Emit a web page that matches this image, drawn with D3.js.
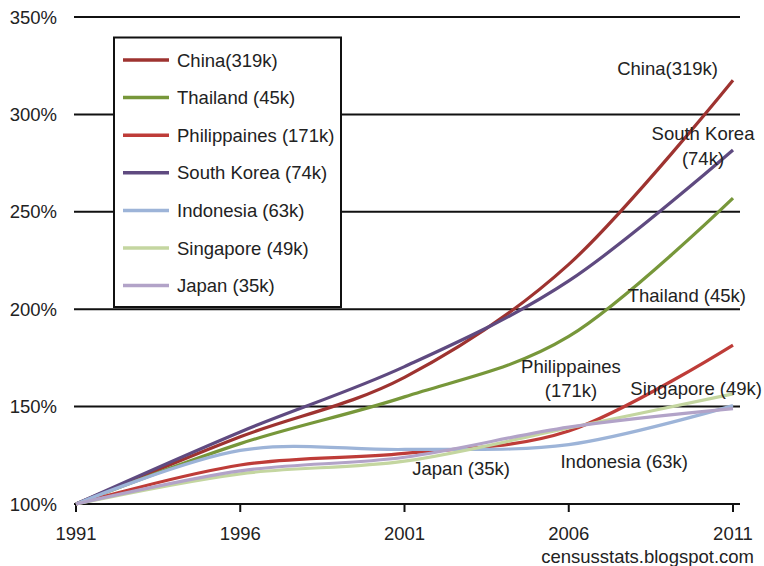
<!DOCTYPE html>
<html>
<head>
<meta charset="utf-8">
<script src="https://cdn.jsdelivr.net/npm/d3@7"></script>
<style>
  html, body { margin: 0; padding: 0; background: #fff; }
  svg { display: block; font-family: "Liberation Sans", Arial, Helvetica, sans-serif; }
</style>
</head>
<body>
<svg id="chart" width="764" height="566"></svg>
<script>
// ---- data ----
const years = [1991, 1996, 2001, 2006, 2011];
const seriesNames = ["China(319k)", "Thailand (45k)", "Philippaines (171k)", "South Korea (74k)", "Indonesia (63k)", "Singapore (49k)", "Japan (35k)"];
const china       = [100, 134.5, 165, 223, 317.5];
const thailand    = [100, 131, 155, 186, 257];
const philippines = [100, 120, 126, 137.5, 181.6];
const southKorea  = [100, 137, 170.5, 214.5, 281.7];
const indonesia   = [100, 127.5, 128, 130.5, 150.5];
const singapore   = [100, 115.5, 122, 139, 156.5];
const japan       = [100, 117, 124, 139.5, 149];
const seriesValues = [china, thailand, philippines, southKorea, indonesia, singapore, japan];
const seriesColors = ["#9E3330", "#77973A", "#BE3C38", "#5F4A80", "#9DB4D8", "#C4D6A0", "#B2A3C8"];
const yTicks = [100, 150, 200, 250, 300, 350];
const xTicks = [1991, 1996, 2001, 2006, 2011];

// ---- scales ----
const svg = d3.select("#chart");
const x = d3.scaleLinear().domain([1991, 2011]).range([76, 733]);
const y = d3.scaleLinear().domain([100, 350]).range([504, 17]);
const FS = 18.5;

// gridlines
svg.append("g").selectAll("line").data(yTicks).join("line")
  .attr("x1", 74).attr("x2", 740)
  .attr("y1", d => y(d)).attr("y2", d => y(d))
  .attr("stroke", "#111").attr("stroke-width", 2);

// y labels
svg.append("g").selectAll("text").data(yTicks).join("text")
  .attr("x", 57).attr("y", d => y(d)).attr("dy", "0.36em")
  .attr("text-anchor", "end").attr("font-size", FS).attr("fill", "#222")
  .text(d => d + "%");

// x axis ticks
svg.append("g").selectAll("line").data(xTicks).join("line")
  .attr("x1", d => x(d)).attr("x2", d => x(d))
  .attr("y1", 503).attr("y2", 512)
  .attr("stroke", "#111").attr("stroke-width", 2);
svg.append("g").selectAll("text").data(xTicks).join("text")
  .attr("x", d => x(d)).attr("y", 540)
  .attr("text-anchor", "middle").attr("font-size", FS).attr("fill", "#222")
  .text(d => d);

// lines
const line = d3.line().x((d, i) => x(years[i])).y(d => y(d)).curve(d3.curveCardinal.tension(0));
svg.append("g").selectAll("path").data(seriesValues).join("path")
  .attr("d", d => line(d))
  .attr("fill", "none")
  .attr("stroke", (d, i) => seriesColors[i])
  .attr("stroke-width", 3.2)
  .attr("stroke-linejoin", "round");

// legend
const lg = svg.append("g");
lg.append("rect").attr("x", 114).attr("y", 37.5).attr("width", 227).attr("height", 269.5)
  .attr("fill", "#fff").attr("stroke", "#111").attr("stroke-width", 2);
const rows = lg.selectAll("g").data(seriesNames).join("g")
  .attr("transform", (d, i) => `translate(0, ${60 + i * 37.6})`);
rows.append("line").attr("x1", 123).attr("x2", 169).attr("y1", 0).attr("y2", 0)
  .attr("stroke", (d, i) => seriesColors[i]).attr("stroke-width", 3.5);
rows.append("text").attr("x", 177).attr("y", 6.5)
  .attr("font-size", FS).attr("fill", "#222").text(d => d);

// direct labels
const labels = [
  { t: "China(319k)", x: 718, y: 75, a: "end" },
  { t: "South Korea", x: 703, y: 140, a: "middle" },
  { t: "(74k)", x: 703, y: 165, a: "middle" },
  { t: "Thailand (45k)", x: 746, y: 301.5, a: "end" },
  { t: "Philippaines", x: 571, y: 373, a: "middle" },
  { t: "(171k)", x: 571, y: 396.5, a: "middle" },
  { t: "Singapore (49k)", x: 762, y: 395, a: "end" },
  { t: "Japan (35k)", x: 510, y: 475, a: "end" },
  { t: "Indonesia (63k)", x: 688, y: 468, a: "end" }
];
svg.append("g").selectAll("text").data(labels).join("text")
  .attr("x", d => d.x).attr("y", d => d.y).attr("text-anchor", d => d.a)
  .attr("font-size", FS).attr("fill", "#222").text(d => d.t);

svg.append("text").attr("x", 754).attr("y", 563).attr("text-anchor", "end")
  .attr("font-size", FS).attr("fill", "#222").text("censusstats.blogspot.com");
</script>
</body>
</html>
